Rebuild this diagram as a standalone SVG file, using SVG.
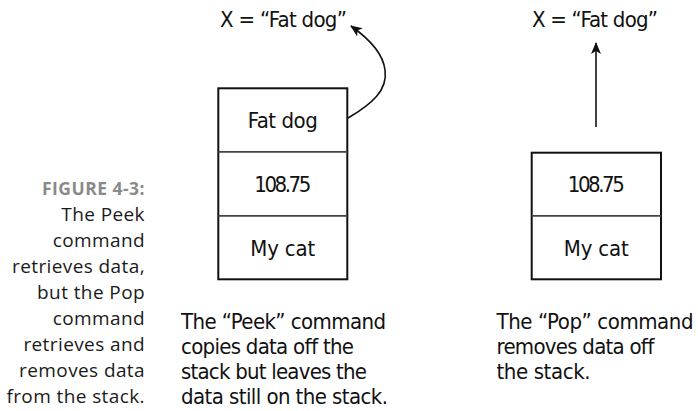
<svg xmlns="http://www.w3.org/2000/svg" width="698" height="411" viewBox="0 0 698 411">
<style>
.cap{font-family:"Open Sans","Noto Sans",sans-serif;font-size:19px;letter-spacing:0.4px;fill:#1a1a1a;text-anchor:end}
.fig{font-family:"Open Sans","Noto Sans",sans-serif;font-size:17.5px;font-weight:bold;letter-spacing:0.5px;fill:#8a8a8a;text-anchor:end}
.t{font-family:"Liberation Sans Narrow","DejaVu Sans Condensed",sans-serif;font-size:22px;fill:#111}
.c{text-anchor:middle}
.box{fill:#fff;stroke:#111;stroke-width:2}
.div{stroke:#444;stroke-width:1.8}
.arr{fill:none;stroke:#111;stroke-width:1.6}
</style>
<defs>
<marker id="ah" markerWidth="12" markerHeight="10" refX="11" refY="5" orient="auto" markerUnits="userSpaceOnUse">
<path d="M0,0 L12,5 L0,10 L3,5 Z" fill="#111"/>
</marker>
</defs>
<rect width="698" height="411" fill="#fff"/>
<g id="figure-caption">
<text class="fig" x="145" y="195" textLength="103" lengthAdjust="spacing">FIGURE 4-3:</text>
<text class="cap" x="145" y="221">The Peek</text>
<text class="cap" x="145" y="247">command</text>
<text class="cap" x="145" y="273">retrieves data,</text>
<text class="cap" x="145" y="299">but the Pop</text>
<text class="cap" x="145" y="325">command</text>
<text class="cap" x="145" y="351">retrieves and</text>
<text class="cap" x="145" y="377">removes data</text>
<text class="cap" x="145" y="403">from the stack.</text>
</g>
<g id="peek-result">
<text class="t" x="220" y="27" textLength="127" lengthAdjust="spacing">X = “Fat dog”</text>
</g>
<g id="peek-stack">
<rect class="box" x="218.3" y="88.3" width="129" height="191"/>
<line class="div" x1="218.3" y1="151.8" x2="347.3" y2="151.8"/>
<line class="div" x1="218.3" y1="215.8" x2="347.3" y2="215.8"/>
<text class="t c" x="282.8" y="127.5" textLength="70" lengthAdjust="spacing">Fat dog</text>
<text class="t c" x="282.8" y="191.5" textLength="57" lengthAdjust="spacing">108.75</text>
<text class="t c" x="282.8" y="255.5" textLength="65" lengthAdjust="spacing">My cat</text>
</g>
<g id="peek-caption">
<text class="t" x="181" y="329" textLength="205" lengthAdjust="spacing">The “Peek” command</text>
<text class="t" x="181" y="354" textLength="173" lengthAdjust="spacing">copies data off the</text>
<text class="t" x="181" y="379" textLength="186" lengthAdjust="spacing">stack but leaves the</text>
<text class="t" x="181" y="404" textLength="207" lengthAdjust="spacing">data still on the stack.</text>
</g>
<g id="pop-result">
<text class="t" x="532" y="27" textLength="126" lengthAdjust="spacing">X = “Fat dog”</text>
</g>
<g id="pop-stack">
<rect class="box" x="531.7" y="152.7" width="129.3" height="126.6"/>
<line class="div" x1="531.7" y1="215.8" x2="661" y2="215.8"/>
<text class="t c" x="596.3" y="191.5" textLength="57" lengthAdjust="spacing">108.75</text>
<text class="t c" x="596.3" y="255.5" textLength="65" lengthAdjust="spacing">My cat</text>
</g>
<g id="pop-caption">
<text class="t" x="496.5" y="329" textLength="197" lengthAdjust="spacing">The “Pop” command</text>
<text class="t" x="496.5" y="354" textLength="158" lengthAdjust="spacing">removes data off</text>
<text class="t" x="496.5" y="379" textLength="94" lengthAdjust="spacing">the stack.</text>
</g>
<g id="connectors">
<path class="arr" d="M348,118 C372,104 388,90 385,70 C383,52 368,38 351,26" marker-end="url(#ah)"/>
<line class="arr" x1="596" y1="127" x2="596" y2="43" marker-end="url(#ah)"/>
</g>
</svg>
